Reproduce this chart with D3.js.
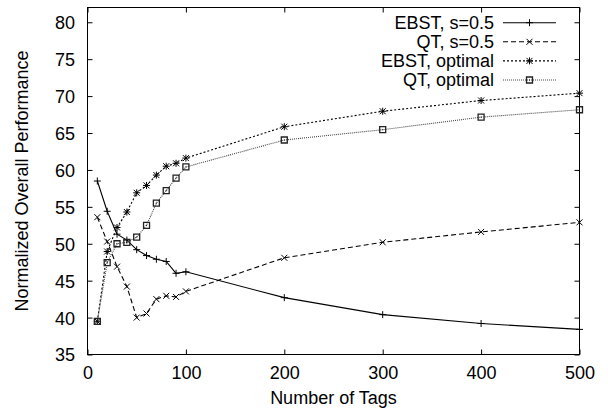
<!DOCTYPE html>
<html>
<head>
<meta charset="utf-8">
<script src="https://cdn.jsdelivr.net/npm/d3@7"></script>
<style>
html,body{margin:0;padding:0;background:#fff;}
svg{display:block;}
text{font-family:"Liberation Sans",Arial,Helvetica,sans-serif;fill:#000;}
</style>
</head>
<body>
<svg id="chart" width="608" height="412"></svg>
<script>
// ---- data ----
const tags = [10, 20, 30, 40, 50, 60, 70, 80, 90, 100, 200, 300, 400, 500];
const ebstS05 = [58.5, 54.4, 51.3, 50.5, 49.2, 48.4, 47.9, 47.6, 46.0, 46.2, 42.7, 40.4, 39.2, 38.4];
const qtS05   = [53.6, 50.3, 46.9, 44.2, 40.0, 40.55, 42.5, 42.95, 42.8, 43.55, 48.1, 50.2, 51.6, 52.9];
const ebstOpt = [39.5, 48.95, 52.2, 54.3, 56.9, 57.9, 59.3, 60.5, 60.9, 61.6, 65.85, 67.95, 69.4, 70.4];
const qtOpt   = [39.5, 47.45, 50.0, 50.2, 50.9, 52.5, 55.5, 57.2, 58.9, 60.4, 64.05, 65.45, 67.15, 68.15];
const seriesNames = ["EBST, s=0.5", "QT, s=0.5", "EBST, optimal", "QT, optimal"];
const xTicks = [0, 100, 200, 300, 400, 500];
const yTicks = [35, 40, 45, 50, 55, 60, 65, 70, 75, 80];
const xTitle = "Number of Tags";
const yTitle = "Normalized Overall Performance";

// ---- layout ----
const L = 87.5, R = 579.5, T = 7.5, B = 354.5;
const svg = d3.select("#chart");
const x = d3.scaleLinear().domain([0, 500]).range([L, R]);
const y = d3.scaleLinear().domain([35, 82]).range([B, T]);
const tickLen = 5;

const styles = [
  {values: ebstS05, dash: null,  color: "#000", marker: "plus"},
  {values: qtS05,   dash: "5,3", color: "#000", marker: "cross"},
  {values: ebstOpt, dash: "2,2", color: "#000", marker: "star"},
  {values: qtOpt,   dash: "1,1", color: "#444", marker: "box"}
];

// frame
svg.append("rect").attr("x", L).attr("y", T).attr("width", R - L).attr("height", B - T)
  .attr("fill", "none").attr("stroke", "#000").attr("stroke-width", 1);

// axes via d3 axis generators (ticks inward, mirrored)
const fs = "18px";
const xAxisB = svg.append("g").attr("transform", `translate(0,${B})`)
  .call(d3.axisBottom(x).tickValues(xTicks).tickSize(-tickLen).tickPadding(0).tickFormat(d3.format("d")));
xAxisB.select(".domain").remove();
xAxisB.selectAll("text").attr("y", 24).attr("dy", "0").style("font-size", fs);
const xAxisT = svg.append("g").attr("transform", `translate(0,${T})`)
  .call(d3.axisTop(x).tickValues(xTicks).tickSize(-tickLen).tickFormat(""));
xAxisT.select(".domain").remove();

const yAxisL = svg.append("g").attr("transform", `translate(${L},0)`)
  .call(d3.axisLeft(y).tickValues(yTicks).tickSize(-tickLen).tickPadding(12).tickFormat(d3.format("d")));
yAxisL.select(".domain").remove();
yAxisL.selectAll("text").attr("x", -12.5).attr("dy", "0.36em").style("font-size", fs);
const yAxisR = svg.append("g").attr("transform", `translate(${R},0)`)
  .call(d3.axisRight(y).tickValues(yTicks).tickSize(-tickLen).tickFormat(""));
yAxisR.select(".domain").remove();
svg.selectAll(".tick line").attr("stroke", "#000");
svg.selectAll("g text").attr("fill", "#000").style("font-family", '"Liberation Sans",Arial,sans-serif');

// titles
svg.append("text").attr("x", (L + R) / 2).attr("y", 404).attr("text-anchor", "middle")
  .style("font-size", fs).text(xTitle);
svg.append("text").attr("transform", `translate(28,${(T + B) / 2}) rotate(-90)`)
  .attr("text-anchor", "middle").style("font-size", fs).text(yTitle);

// markers
function drawMarker(g, type, cx, cy, color) {
  const s = 3.5;
  const p = g.append("path").attr("fill", "none").attr("stroke", color).attr("stroke-width", 1);
  let d = "";
  if (type === "plus" || type === "star") d += `M${cx - s},${cy}H${cx + s}M${cx},${cy - s}V${cy + s}`;
  if (type === "cross" || type === "star") { const c = 3; d += `M${cx - c},${cy - c}L${cx + c},${cy + c}M${cx - c},${cy + c}L${cx + c},${cy - c}`; }
  if (type === "box") {
    d += `M${cx - 3},${cy - 3}H${cx + 3}V${cy + 3}H${cx - 3}Z`;
    g.append("rect").attr("x", cx - 0.5).attr("y", cy - 0.5).attr("width", 1).attr("height", 1).attr("fill", color);
    p.attr("stroke-width", 1.3).attr("stroke", "#222");
  }
  p.attr("d", d);
}

const line = d3.line().x((d, i) => x(tags[i])).y(d => y(d));
const plot = svg.append("g");
styles.forEach(st => {
  const g = plot.append("g");
  g.append("path").datum(st.values).attr("d", line).attr("fill", "none")
    .attr("stroke", st.color).attr("stroke-width", 1.1)
    .attr("stroke-dasharray", st.dash);
  st.values.forEach((v, i) => drawMarker(g, st.marker, x(tags[i]), y(v), "#000"));
});

// legend
const legTextX = 494, sampleX0 = 503, sampleX1 = 556, rowY0 = 22.7, rowH = 19.1;
seriesNames.forEach((name, i) => {
  const cy = rowY0 + i * rowH;
  const st = styles[i];
  svg.append("text").attr("x", legTextX).attr("y", cy).attr("dy", "0.36em")
    .attr("text-anchor", "end").style("font-size", fs).text(name);
  svg.append("line").attr("x1", sampleX0).attr("x2", sampleX1).attr("y1", cy).attr("y2", cy)
    .attr("stroke", st.color).attr("stroke-width", 1.1).attr("stroke-dasharray", st.dash);
  drawMarker(svg.append("g"), st.marker, (sampleX0 + sampleX1) / 2, cy, "#000");
});
</script>
</body>
</html>
